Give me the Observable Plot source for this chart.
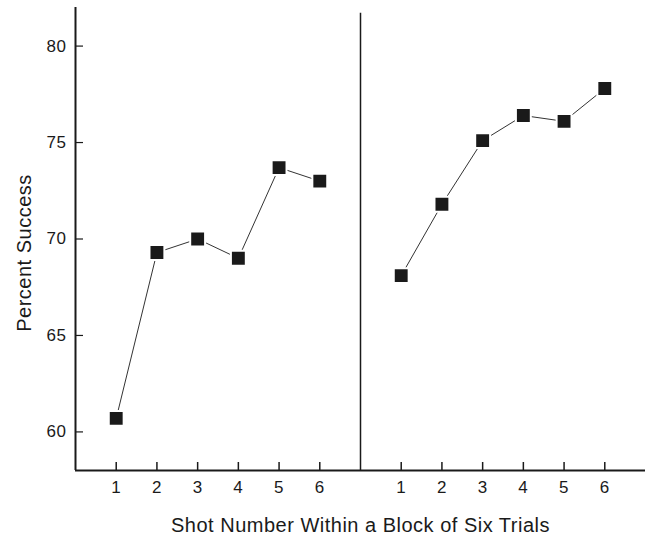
<!DOCTYPE html>
<html>
<head>
<meta charset="utf-8">
<script src="https://cdn.jsdelivr.net/npm/d3@7"></script>
<script src="https://cdn.jsdelivr.net/npm/@observablehq/plot@0.6"></script>
<style>
  html, body { margin: 0; padding: 0; background: #fff; }
  #chart svg { display: block; }
</style>
</head>
<body>
<div id="chart"></div>
<script>
// Data
const shots = [1, 2, 3, 4, 5, 6];
const block1 = [60.7, 69.3, 70.0, 69.0, 73.7, 73.0];
const block2 = [68.1, 71.8, 75.1, 76.4, 76.1, 77.8];
const yTicks = [60, 65, 70, 75, 80];
const panelShift = 7; // second panel starts after the divider

const rows1 = shots.map((s, i) => ({pos: s, value: block1[i]}));
const rows2 = shots.map((s, i) => ({pos: s + panelShift, value: block2[i]}));
const xTickPos = shots.concat(shots.map(s => s + panelShift));

const font = "Liberation Sans, Arial, Helvetica, sans-serif";

const chart = Plot.plot({
  width: 649,
  height: 537,
  marginLeft: 75,
  marginRight: 4,
  marginTop: 7,
  marginBottom: 67,
  style: {fontFamily: font, fontSize: "17px", color: "#1a1a1a", background: "#fff", letterSpacing: "0.5px"},
  x: {domain: [0, 14]},
  y: {domain: [58, 82]},
  marks: [
    Plot.axisY(yTicks, {
      tickSize: -8, tickPadding: 17, strokeWidth: 1.2,
      label: null, fontSize: 17
    }),
    Plot.axisX(xTickPos, {
      tickSize: -8, tickPadding: 18, strokeWidth: 1.5,
      tickFormat: d => d > panelShift ? d - panelShift : d,
      label: null, fontSize: 17
    }),
    Plot.text(["Shot Number Within a Block of Six Trials"], {
      frameAnchor: "bottom", dy: 61, fontSize: 20, fill: "#1a1a1a"
    }),
    Plot.text(["Percent Success"], {
      frameAnchor: "left", textAnchor: "middle", dx: -51, dy: 14, rotate: -90, fontSize: 20, fill: "#1a1a1a"
    }),
    Plot.ruleX([0], {stroke: "#1a1a1a", strokeWidth: 2}),
    Plot.ruleY([58], {stroke: "#1a1a1a", strokeWidth: 2}),
    Plot.ruleX([panelShift], {y1: 58, y2: 81.7, stroke: "#1a1a1a", strokeWidth: 1.5}),
    Plot.line(rows1, {x: "pos", y: "value", stroke: "#333", strokeWidth: 1}),
    Plot.line(rows2, {x: "pos", y: "value", stroke: "#333", strokeWidth: 1}),
    Plot.dot(rows1.concat(rows2), {
      x: "pos", y: "value", symbol: "square", r: 8.4,
      fill: "#1a1a1a", stroke: "#fff", strokeWidth: 2
    })
  ]
});

document.getElementById("chart").append(chart);
</script>
</body>
</html>
